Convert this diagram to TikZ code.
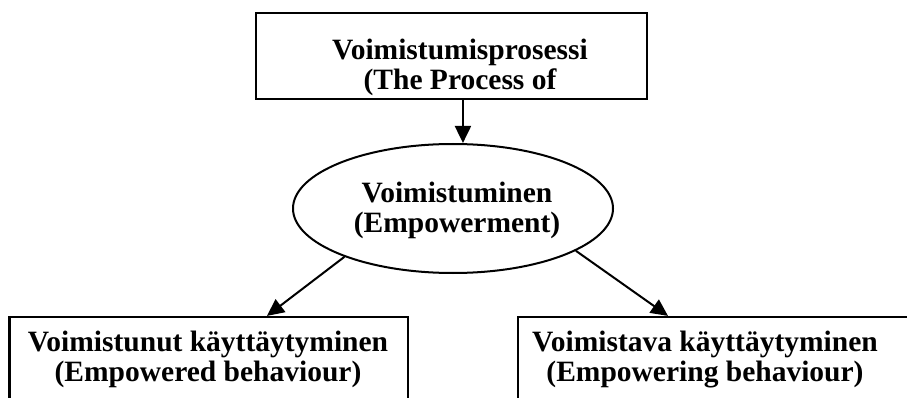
\documentclass[tikz,border=0pt]{standalone}
\usepackage{fontspec}
\setmainfont{Liberation Serif}
\usetikzlibrary{arrows.meta,shapes.geometric}

\begin{document}
\begin{tikzpicture}[x=1pt,y=-1pt,
  frame/.style={draw, line width=2.2pt, rectangle, inner sep=0pt},
  oval/.style={draw, ellipse, line width=2pt, inner sep=0pt},
  caption/.style={font=\fontsize{29.5}{30}\selectfont\bfseries, align=center, anchor=base, inner sep=0pt},
  link/.style={line width=2pt, -{Triangle[length=17pt,width=16pt]}}]
\useasboundingbox (0,0) rectangle (907,398);
\clip (0,0) rectangle (907,398);

% shapes
\node[frame, minimum width=390.7pt, minimum height=86pt] (proc) at (451.35,56.3) {};
\node[oval, minimum width=320pt, minimum height=129pt] (emp) at (453,208.5) {};
\node[frame, minimum width=398.2pt, minimum height=133pt] (lbox) at (208.6,383.5) {};
\node[frame, minimum width=398.2pt, minimum height=133pt] (rbox) at (717.1,383.5) {};

% texts (anchored at the baseline of their last line)
\node[caption] (proct) at (460,89.3) {Voimistumisprosessi\\(The Process of};
\node[caption] (empt) at (457,233) {Voimistuminen\\(Empowerment)};
\node[caption] (lboxt) at (208,381.7) {Voimistunut käyttäytyminen\\(Empowered behaviour)};
\node[caption] (rboxt) at (705,381.7) {Voimistava käyttäytyminen\\(Empowering behaviour)};

% connectors
\draw[link] ([xshift=11.6pt]proc.south) -- ([xshift=11.6pt]proc.south |- emp.north);
\draw[link] (emp.204) -- ([xshift=58.4pt]lbox.north);
\draw[link] (emp.341) -- ([xshift=-49.1pt]rbox.north);
\end{tikzpicture}
\end{document}
